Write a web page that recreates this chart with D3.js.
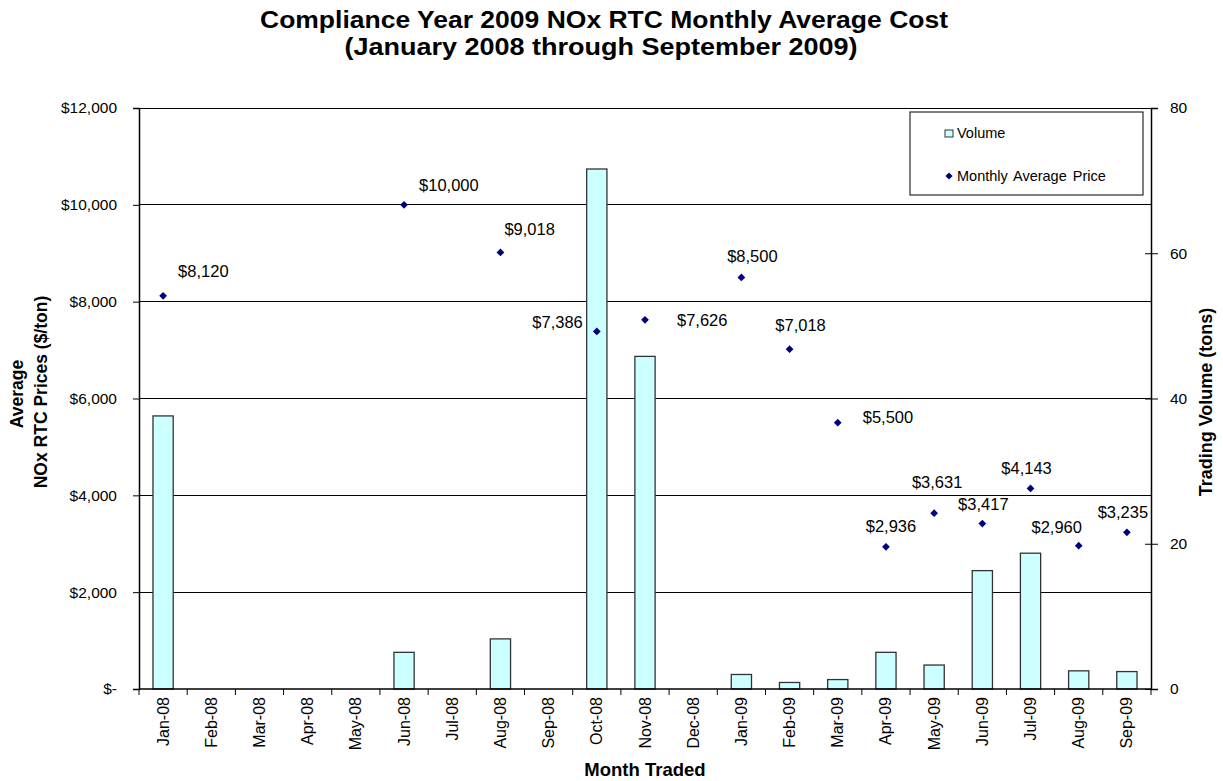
<!DOCTYPE html>
<html>
<head>
<meta charset="utf-8">
<script src="https://cdn.jsdelivr.net/npm/d3@7"></script>
<style>
  body { margin: 0; background: #fff; }
  svg { display: block; font-family: Arial, "Liberation Sans", sans-serif; }
</style>
</head>
<body>
<svg id="chart" width="1223" height="781"></svg>
<script>
const months = ["Jan-08", "Feb-08", "Mar-08", "Apr-08", "May-08", "Jun-08", "Jul-08", "Aug-08", "Sep-08", "Oct-08", "Nov-08", "Dec-08",
  "Jan-09", "Feb-09", "Mar-09", "Apr-09", "May-09", "Jun-09", "Jul-09", "Aug-09", "Sep-09"];
const volume = [37.6, 0, 0, 0, 0, 5.05, 0, 6.9, 0, 71.6, 45.8, 0, 2.0, 0.9, 1.3, 5.05, 3.3, 16.3, 18.7, 2.5, 2.4];
const price = [8120, null, null, null, null, 10000, null, 9018, null, 7386, 7626, null, 8500, 7018, 5500, 2936, 3631, 3417, 4143, 2960, 3235];
const priceTicks = [0, 2000, 4000, 6000, 8000, 10000, 12000];
const volumeTicks = [0, 20, 40, 60, 80];

// label offsets (dx, dy to text centre, anchor) relative to each price point
const labelPos = {
  "Jan-08": [15, -25, "start"], "Jun-08": [15, -20, "start"], "Aug-08": [4, -23, "start"],
  "Oct-08": [-14, -9, "end"], "Nov-08": [32, 0, "start"], "Jan-09": [11, -21, "middle"],
  "Feb-09": [11, -24, "middle"], "Mar-09": [25, -5, "start"], "Apr-09": [5, -21, "middle"],
  "May-09": [3, -31, "middle"], "Jun-09": [1, -19, "middle"], "Jul-09": [-4, -20, "middle"],
  "Aug-09": [-22, -18, "middle"], "Sep-09": [-4, -20, "middle"]
};

const svg = d3.select("#chart");
const margin = { top: 108, right: 72, bottom: 92, left: 139 };
const width = 1223, height = 781;
const chartWidth = width - margin.left - margin.right;
const chartHeight = height - margin.top - margin.bottom;

const x = d3.scaleBand().domain(months).range([0, chartWidth]).paddingInner(0.58).paddingOuter(0.29);
const xBand = d3.scaleBand().domain(months).range([0, chartWidth]);
const yPrice = d3.scaleLinear().domain([0, 12000]).range([chartHeight, 0]);
const yVol = d3.scaleLinear().domain([0, 80]).range([chartHeight, 0]);

const chart = svg.append("g").attr("transform", `translate(${margin.left},${margin.top})`);

// title
svg.append("text").attr("x", 604).attr("y", 28).attr("text-anchor", "middle")
  .attr("font-size", 23).attr("font-weight", "bold")
  .attr("textLength", 688).attr("lengthAdjust", "spacingAndGlyphs")
  .text("Compliance Year 2009 NOx RTC Monthly Average Cost");
svg.append("text").attr("x", 601).attr("y", 55).attr("text-anchor", "middle")
  .attr("font-size", 23).attr("font-weight", "bold")
  .attr("textLength", 513).attr("lengthAdjust", "spacingAndGlyphs")
  .text("(January 2008 through September 2009)");

// gridlines
chart.append("g").selectAll("line").data(priceTicks.slice(1)).join("line")
  .attr("x1", 0).attr("x2", chartWidth)
  .attr("y1", (d) => yPrice(d)).attr("y2", (d) => yPrice(d))
  .attr("stroke", "#000").attr("stroke-width", 1).attr("shape-rendering", "crispEdges");

// bars
chart.append("g").selectAll("rect").data(months.map((m, i) => ({ m, v: volume[i] })).filter((d) => d.v > 0)).join("rect")
  .attr("x", (d) => x(d.m)).attr("width", x.bandwidth())
  .attr("y", (d) => yVol(d.v)).attr("height", (d) => chartHeight - yVol(d.v))
  .attr("fill", "#ccffff").attr("stroke", "#333").attr("stroke-width", 1.3);

// left axis
const leftAxis = chart.append("g")
  .call(d3.axisLeft(yPrice).tickValues(priceTicks).tickSize(6).tickPadding(16)
    .tickFormat((d) => (d === 0 ? "$-" : d3.format("$,")(d))));
leftAxis.selectAll("text").attr("font-size", 15.5).attr("fill", "#000").style("font-family", "Arial, 'Liberation Sans', sans-serif");
leftAxis.select(".domain").attr("stroke", "#000").attr("stroke-width", 1.5);
leftAxis.selectAll(".tick line").attr("stroke", "#000");

// right axis
const rightAxis = chart.append("g").attr("transform", `translate(${chartWidth},0)`)
  .call(d3.axisRight(yVol).tickValues(volumeTicks).tickSize(7).tickPadding(12));
rightAxis.selectAll(".tick line").attr("x1", -6).attr("stroke", "#000");
rightAxis.selectAll("text").attr("font-size", 15.5).attr("fill", "#000").style("font-family", "Arial, 'Liberation Sans', sans-serif");
rightAxis.select(".domain").attr("stroke", "#000").attr("stroke-width", 1.5);

// bottom axis with ticks between categories
const bottom = chart.append("g").attr("transform", `translate(0,${chartHeight})`);
bottom.append("line").attr("x1", 0).attr("x2", chartWidth).attr("stroke", "#000").attr("stroke-width", 1.5);
bottom.selectAll("line.tk").data(months.concat(["end"])).join("line").attr("class", "tk")
  .attr("x1", (d, i) => i * xBand.step()).attr("x2", (d, i) => i * xBand.step())
  .attr("y1", 0).attr("y2", 6).attr("stroke", "#000");
bottom.selectAll("text").data(months).join("text")
  .attr("transform", (d) => `translate(${xBand(d) + xBand.bandwidth() / 2 + 5.5},${8}) rotate(-90)`)
  .attr("text-anchor", "end").attr("font-size", 16).text((d) => d);

// price diamonds (rotated squares)
const pts = months.map((m, i) => ({ m, p: price[i] })).filter((d) => d.p !== null);
const diamond = d3.symbol().type(d3.symbolSquare).size(30);
chart.append("g").selectAll("path").data(pts).join("path")
  .attr("d", diamond)
  .attr("transform", (d) => `translate(${xBand(d.m) + xBand.bandwidth() / 2},${yPrice(d.p)}) rotate(45)`)
  .attr("fill", "#000080");

chart.append("g").selectAll("text").data(pts).join("text")
  .attr("x", (d) => xBand(d.m) + xBand.bandwidth() / 2 + labelPos[d.m][0])
  .attr("y", (d) => yPrice(d.p) + labelPos[d.m][1])
  .attr("dy", "0.35em")
  .attr("text-anchor", (d) => labelPos[d.m][2])
  .attr("font-size", 16.5).text((d) => d3.format("$,")(d.p));

// axis titles
svg.append("text").attr("x", 645).attr("y", 776).attr("text-anchor", "middle")
  .attr("font-size", 18.5).attr("font-weight", "bold").text("Month Traded");
svg.append("text").attr("transform", "translate(23,394) rotate(-90)").attr("text-anchor", "middle")
  .attr("font-size", 17.5).attr("font-weight", "bold").text("Average");
svg.append("text").attr("transform", "translate(47,392) rotate(-90)").attr("text-anchor", "middle")
  .attr("font-size", 17.5).attr("font-weight", "bold").text("NOx RTC Prices ($/ton)");
svg.append("text").attr("transform", "translate(1212,402) rotate(-90)").attr("text-anchor", "middle")
  .attr("font-size", 18).attr("font-weight", "bold").text("Trading Volume (tons)");

// legend
const legend = svg.append("g").attr("transform", "translate(910,112)");
legend.append("rect").attr("width", 233).attr("height", 83).attr("fill", "#fff").attr("stroke", "#000").attr("stroke-width", 1);
legend.append("rect").attr("x", 35).attr("y", 18).attr("width", 8).attr("height", 7)
  .attr("fill", "#ccffff").attr("stroke", "#333");
legend.append("text").attr("x", 47).attr("y", 26).attr("font-size", 14.5).text("Volume");
legend.append("path").attr("d", d3.symbol().type(d3.symbolSquare).size(26))
  .attr("transform", "translate(39,64) rotate(45)").attr("fill", "#000080");
legend.append("text").attr("x", 47).attr("y", 69).attr("font-size", 14.5)
  .attr("word-spacing", 2).text("Monthly Average Price");
</script>
</body>
</html>
